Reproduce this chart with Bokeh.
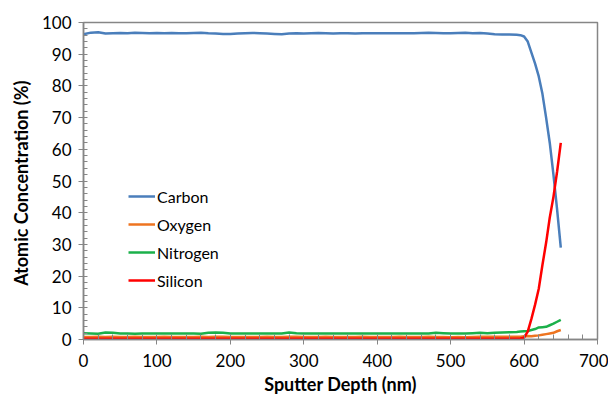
from bokeh.plotting import figure
from bokeh.models import Range1d, Legend, LegendItem, FixedTicker
from bokeh.embed import file_html
from bokeh.resources import INLINE

depth = list(range(0, 600, 10)) + [595, 600, 605, 610, 615, 620, 625, 630, 635, 640, 645, 650]

carbon = [96.3, 96.8, 96.9, 96.5, 96.6, 96.7, 96.6, 96.8, 96.7, 96.6,
          96.7, 96.6, 96.7, 96.6, 96.6, 96.7, 96.8, 96.6, 96.5, 96.4,
          96.4, 96.5, 96.6, 96.7, 96.6, 96.5, 96.4, 96.3, 96.5, 96.6,
          96.5, 96.6, 96.7, 96.6, 96.5, 96.6, 96.6, 96.5, 96.6, 96.6,
          96.6, 96.6, 96.6, 96.6, 96.6, 96.6, 96.7, 96.8, 96.7, 96.6,
          96.6, 96.7, 96.8, 96.6, 96.7, 96.5, 96.3, 96.2, 96.2, 96.1,
          96.0, 95.6, 94.0, 90.5, 87.0, 83.0, 77.5, 70.0, 62.0, 52.0, 41.0, 29.0]

oxygen = [0.8, 0.8, 0.9, 0.8, 0.9, 0.8, 0.8, 0.9, 0.8, 0.8,
          0.8, 0.9, 0.8, 0.8, 0.8, 0.8, 0.9, 0.8, 0.9, 0.9,
          0.8, 0.8, 0.8, 0.8, 0.8, 0.9, 0.8, 0.8, 0.9, 0.9,
          0.8, 0.8, 0.8, 0.9, 0.8, 0.8, 0.8, 0.8, 0.9, 0.8,
          0.8, 0.8, 0.8, 0.9, 0.8, 0.8, 0.8, 0.9, 0.8, 0.8,
          0.7, 0.8, 0.7, 0.8, 0.9, 0.9, 0.9, 0.9, 0.9, 0.9,
          0.9, 1.0, 1.1, 1.0, 1.2, 1.3, 1.5, 1.7, 1.9, 2.1, 2.6, 3.0]

nitrogen = [2.0, 1.9, 1.8, 2.2, 2.1, 1.9, 1.9, 1.8, 1.9, 1.9,
            1.9, 1.9, 1.9, 1.9, 1.9, 1.9, 1.8, 2.1, 2.2, 2.1,
            1.9, 1.9, 1.9, 1.9, 1.9, 1.9, 1.9, 1.9, 2.2, 2.0,
            1.9, 1.9, 1.9, 1.9, 1.9, 1.9, 1.9, 1.9, 1.9, 1.9,
            1.9, 1.9, 1.9, 1.9, 1.9, 1.9, 1.9, 1.9, 2.1, 2.0,
            1.9, 1.9, 1.9, 2.0, 2.1, 2.0, 2.1, 2.2, 2.3, 2.4,
            2.5, 2.6, 2.7, 3.0, 3.3, 3.8, 3.9, 4.0, 4.5, 5.0, 5.6, 6.2]

silicon = [0.2] * 60 + [0.3, 0.6, 2.5, 6.5, 11.0, 16.0, 23.5, 30.5, 38.5, 45.0, 53.0, 62.0]

series_names = ["Carbon", "Oxygen", "Nitrogen", "Silicon"]
series_colors = ["#4a7ebb", "#ee7420", "#1bb04a", "#ff0000"]
x_ticks = [0, 100, 200, 300, 400, 500, 600, 700]
y_ticks = [0, 10, 20, 30, 40, 50, 60, 70, 80, 90, 100]

FONT = "Lato"

p = figure(width=608, height=399, output_backend="svg", toolbar_location=None,
           x_range=Range1d(0, 700), y_range=Range1d(0, 100),
           min_border_left=83, min_border_right=11, min_border_top=22, min_border_bottom=60)

p.grid.visible = False
p.outline_line_color = "#868686"
p.outline_line_width = 1.5
p.background_fill_color = "white"
p.border_fill_color = "white"

items = []
for name, col, data in zip(series_names, series_colors, [carbon, oxygen, nitrogen, silicon]):
    r = p.line(depth, data, line_color=col, line_width=2.5)
    items.append(LegendItem(label=name, renderers=[r]))

legend = Legend(items=items, location=(45, 49))
legend.border_line_color = None
legend.background_fill_alpha = 0
legend.padding = 0
legend.margin = 0
legend.spacing = 8
legend.glyph_height = 20
legend.label_height = 20
legend.glyph_width = 27
legend.label_standoff = 2
legend.label_text_font = FONT
legend.label_text_font_size = "16px"
legend.label_text_color = "#000000"
p.add_layout(legend, "center")

for ax in (p.xaxis[0], p.yaxis[0]):
    ax.axis_line_color = "#868686"
    ax.axis_line_width = 1.5
    ax.major_tick_line_color = "#868686"
    ax.minor_tick_line_color = "#868686"
    ax.major_label_text_font = FONT
    ax.major_label_text_font_size = "17px"
    ax.major_label_text_color = "#000000"
    ax.axis_label_text_font = FONT
    ax.axis_label_text_font_size = "18px"
    ax.axis_label_text_font_style = "bold"
    ax.axis_label_text_color = "#000000"

p.xaxis.ticker = FixedTicker(ticks=x_ticks, minor_ticks=list(range(0, 701, 20)))
p.yaxis.ticker = FixedTicker(ticks=y_ticks, minor_ticks=list(range(0, 101, 2)))
p.xaxis.major_tick_in = 5
p.xaxis.major_tick_out = 5
p.xaxis.minor_tick_in = 5
p.xaxis.minor_tick_out = 0
p.yaxis.major_tick_in = 0
p.yaxis.major_tick_out = 5
p.yaxis.minor_tick_in = 4
p.yaxis.minor_tick_out = 0
p.xaxis.major_label_standoff = 9
p.yaxis.major_label_standoff = 7
p.xaxis.axis_label = "Sputter Depth (nm)"
p.yaxis.axis_label = "Atomic Concentration  (%)"
p.xaxis.axis_label_standoff = 3
p.yaxis.axis_label_standoff = 7

open("out.html", "w").write(file_html(p, INLINE))
